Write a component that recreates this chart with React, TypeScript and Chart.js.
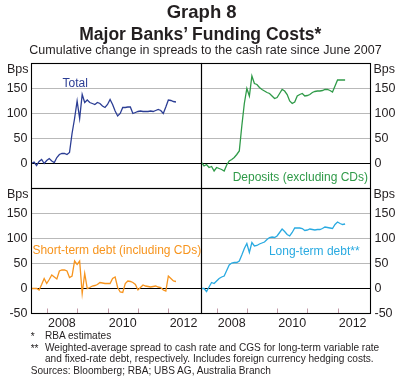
import React, { useEffect, useRef } from "react";
import { Chart, registerables } from "chart.js";

Chart.register(...registerables);

// ---------- data (monthly, end-of-month, from June 2007) ----------
const START_YEAR = 2007;
const START_MONTH = 6; // June

const TOTAL = [
  0, 3, -4, 4, 8, 0, 6, 10, 5, 2, 12, 18, 20, 20, 18, 22, 60, 90, 125, 90,
  138, 122, 127, 122, 120, 118, 122, 120, 115, 112, 118, 128, 118, 105, 95, 100, 112, 112, 113, 113,
  100, 102, 104, 105, 104, 104, 104, 105, 104, 106, 108, 106, 100, 113, 127, 126, 124, 123,
];
const DEPOSITS = [
  2, -5, -2, -8, -6, -15, -8, -10, -12, -15, -3, 5, 8, 12, 18, 25, 75, 120, 150, 135,
  175, 160, 158, 152, 148, 145, 142, 140, 135, 130, 132, 140, 148, 145, 138, 125, 120, 123, 135, 138,
  140, 135, 136, 138, 142, 144, 145, 145, 146, 148, 148, 146, 143, 155, 167, 167, 167, 167,
];
const SHORT_TERM = [
  0, 0, 0, -3, 8, 20, 10, 18, 27, 23, 19, 35, 37, 37, 35, 22, 25, 55, 48, 55,
  -10, 30, 0, 2, 5, 6, 8, 12, 11, 10, 10, 10, 20, 23, 2, -7, -8, 10, 15, 14,
  12, 8, -3, 2, 7, 5, 4, 3, 4, 5, 3, 2, -3, -5, 25, 20, 15, 14,
];
const LONG_TERM = [
  0, 0, -6, 3, 12, 10, 15, 20, 23, 25, 36, 47, 51, 52, 52, 55, 67, 80, 90, 72,
  92, 85, 86, 89, 91, 93, 98, 102, 103, 102, 105, 112, 119, 114, 108, 105, 112, 121, 121, 121,
  120, 116, 117, 119, 118, 117, 118, 118, 120, 123, 122, 121, 120, 128, 133, 130, 128, 129,
];

const Y_TICK_VALUES = [-50, 0, 50, 100, 150, 200];
const X_LABEL_YEARS = [2008, 2010, 2012];
const X_TICK_YEARS = [2008, 2009, 2010, 2011, 2012];
const X_MIN = 2007.5;
const X_MAX = 2013.09;
const Y_MIN = -50;
const Y_MAX = 200;

// ---------- style / layout ----------
const W = 409;
const H = 389;
const FRAME = { left: 31.5, mid: 201.5, right: 370.5, top: 63.5, midY: 188.5, bottom: 313.5 };
const X_AXIS_H = 20;
const FONT = "'Liberation Sans', Arial, Helvetica, sans-serif";
const TEXT = "#231f20";
const GRID = "#b9b9b9";
const TICK_MARK = "#c09aa8";
const NOTE_SIZE = 10.1;

const C_TOTAL = "#2b3d94";
const C_DEPOSITS = "#2f9a48";
const C_SHORT = "#f7941d";
const C_LONG = "#29aae1";

type PanelCfg = {
  values: number[];
  color: string;
  label: string;
  labelAt: [number, number];
  side: "left" | "right";
  row: "top" | "bottom";
};

const PANELS: PanelCfg[] = [
  { values: TOTAL, color: C_TOTAL, label: "Total", labelAt: [2008.52, 153], side: "left", row: "top" },
  { values: DEPOSITS, color: C_DEPOSITS, label: "Deposits (excluding CDs)", labelAt: [2008.53, -34], side: "right", row: "top" },
  { values: SHORT_TERM, color: C_SHORT, label: "Short-term debt (including CDs)", labelAt: [2007.53, 70], side: "left", row: "bottom" },
  { values: LONG_TERM, color: C_LONG, label: "Long-term debt**", labelAt: [2009.73, 68], side: "right", row: "bottom" },
];

const monthX = (i: number) => START_YEAR + (START_MONTH + i) / 12;

const decorPlugin = {
  id: "decor",
  afterDraw(chart: any, _args: any, opts: any) {
    const { ctx, chartArea: a, scales } = chart;
    const xs = scales.x;
    const ys = scales.y;
    ctx.save();
    if (opts.yearTicks) {
      ctx.strokeStyle = TICK_MARK;
      ctx.lineWidth = 1;
      X_TICK_YEARS.forEach((yr) => {
        const px = Math.round(xs.getPixelForValue(yr)) + 0.5;
        ctx.beginPath();
        ctx.moveTo(px, a.bottom);
        ctx.lineTo(px, a.bottom - 5);
        ctx.stroke();
      });
    }
    ctx.strokeStyle = "#000";
    ctx.lineWidth = 1.1;
    ctx.strokeRect(a.left, a.top, a.right - a.left, a.bottom - a.top);

    ctx.fillStyle = TEXT;
    ctx.font = `12.5px ${FONT}`;
    ctx.textBaseline = "middle";
    if (opts.side === "left") {
      ctx.textAlign = "right";
      ctx.fillText("Bps", a.left - 3, a.top + 6.5);
    } else {
      ctx.textAlign = "left";
      ctx.fillText("Bps", a.right + 3, a.top + 6.5);
    }

    ctx.fillStyle = opts.color;
    ctx.font = `12px ${FONT}`;
    ctx.textAlign = "left";
    ctx.textBaseline = "alphabetic";
    ctx.fillText(opts.label, xs.getPixelForValue(opts.labelAt[0]), ys.getPixelForValue(opts.labelAt[1]));
    ctx.restore();
  },
};

function buildConfig(p: PanelCfg): any {
  const isLeft = p.side === "left";
  const isTop = p.row === "top";
  const padding = {
    left: isLeft ? 0 : FRAME.mid,
    right: isLeft ? W - FRAME.mid : 0,
    top: isTop ? FRAME.top : FRAME.midY,
    bottom: isTop ? H - FRAME.midY : H - FRAME.bottom - X_AXIS_H,
  };
  const xScale: any = {
    type: "linear",
    min: X_MIN,
    max: X_MAX,
    display: !isTop,
    grid: { display: false, drawTicks: false },
    border: { display: false },
    afterBuildTicks: (s: any) => {
      s.ticks = X_LABEL_YEARS.map((y) => ({ value: y + 0.5 }));
    },
    ticks: {
      autoSkip: false,
      maxRotation: 0,
      padding: 3,
      color: TEXT,
      font: { family: FONT, size: 12.5 },
      callback: (v: number) => String(Math.floor(v)),
    },
  };
  if (!isTop) {
    xScale.afterFit = (s: any) => {
      s.height = X_AXIS_H;
    };
  }
  return {
    type: "line",
    data: {
      datasets: [
        {
          data: p.values.map((v, i) => ({ x: monthX(i), y: v })),
          borderColor: p.color,
          borderWidth: 1.3,
          pointRadius: 0,
          fill: false,
          tension: 0,
        },
      ],
    },
    plugins: [decorPlugin],
    options: {
      responsive: false,
      maintainAspectRatio: false,
      devicePixelRatio: 1,
      animation: false,
      events: [],
      layout: { padding },
      plugins: {
        legend: { display: false },
        tooltip: { enabled: false },
        decor: { side: p.side, color: p.color, label: p.label, labelAt: p.labelAt, yearTicks: !isTop },
      },
      scales: {
        x: xScale,
        y: {
          type: "linear",
          position: p.side,
          min: Y_MIN,
          max: Y_MAX,
          afterBuildTicks: (s: any) => {
            s.ticks = Y_TICK_VALUES.map((v) => ({ value: v }));
          },
          afterFit: (s: any) => {
            s.width = isLeft ? FRAME.left : W - FRAME.right;
          },
          border: { display: false },
          grid: {
            drawTicks: false,
            lineWidth: 1,
            color: (c: any) => {
              const v = c.tick ? c.tick.value : null;
              if (v === 0) return "#000";
              if (v === Y_MIN || v === Y_MAX) return "rgba(0,0,0,0)";
              return GRID;
            },
          },
          ticks: {
            padding: 4,
            color: TEXT,
            font: { family: FONT, size: 12.5 },
            callback: (v: number) => (v === Y_MAX || (isTop && v === Y_MIN) ? "" : String(v)),
          },
        },
      },
    },
  };
}

function PanelCanvas({ cfg }: { cfg: PanelCfg }) {
  const ref = useRef<HTMLCanvasElement | null>(null);
  useEffect(() => {
    if (!ref.current) return;
    const chart = new Chart(ref.current, buildConfig(cfg));
    return () => chart.destroy();
  }, [cfg]);
  return (
    <canvas
      ref={ref}
      width={W}
      height={H}
      style={{ position: "absolute", left: 0, top: 0, width: W, height: H }}
    />
  );
}

// Place text so that its alphabetic baseline sits at `baseline` (Liberation Sans metrics).
function Txt({
  children,
  x,
  baseline,
  size,
  bold,
  center,
}: {
  children: React.ReactNode;
  x: number;
  baseline: number;
  size: number;
  bold?: boolean;
  center?: boolean;
}) {
  const top = baseline - 0.8465 * size;
  return (
    <div
      style={{
        position: "absolute",
        left: x,
        top,
        fontFamily: FONT,
        fontSize: size,
        lineHeight: `${size}px`,
        fontWeight: bold ? 700 : 400,
        color: TEXT,
        whiteSpace: "nowrap",
        transform: center ? "translateX(-50%)" : undefined,
      }}
    >
      {children}
    </div>
  );
}

export default function App() {
  return (
    <div
      style={{
        position: "fixed",
        left: 0,
        top: 0,
        width: W,
        height: H,
        background: "#fff",
        overflow: "hidden",
      }}
    >
      {PANELS.map((p, i) => (
        <PanelCanvas key={i} cfg={p} />
      ))}
      <Txt x={201.7} baseline={18.8} size={18.5} bold center>
        Graph 8
      </Txt>
      <Txt x={200.3} baseline={41} size={17.5} bold center>
        Major Banks’ Funding Costs*
      </Txt>
      <Txt x={205.5} baseline={54.5} size={12.5} center>
        Cumulative change in spreads to the cash rate since June 2007
      </Txt>
      <Txt x={30.7} baseline={341} size={NOTE_SIZE}>
        *
      </Txt>
      <Txt x={45} baseline={340} size={NOTE_SIZE}>
        RBA estimates
      </Txt>
      <Txt x={30.7} baseline={352.5} size={NOTE_SIZE}>
        **
      </Txt>
      <Txt x={45} baseline={351.6} size={NOTE_SIZE}>
        Weighted-average spread to cash rate and CGS for long-term variable rate
      </Txt>
      <Txt x={45} baseline={363} size={NOTE_SIZE}>
        and fixed-rate debt, respectively. Includes foreign currency hedging costs.
      </Txt>
      <Txt x={30.7} baseline={374.5} size={NOTE_SIZE}>
        Sources: Bloomberg; RBA; UBS AG, Australia Branch
      </Txt>
    </div>
  );
}
